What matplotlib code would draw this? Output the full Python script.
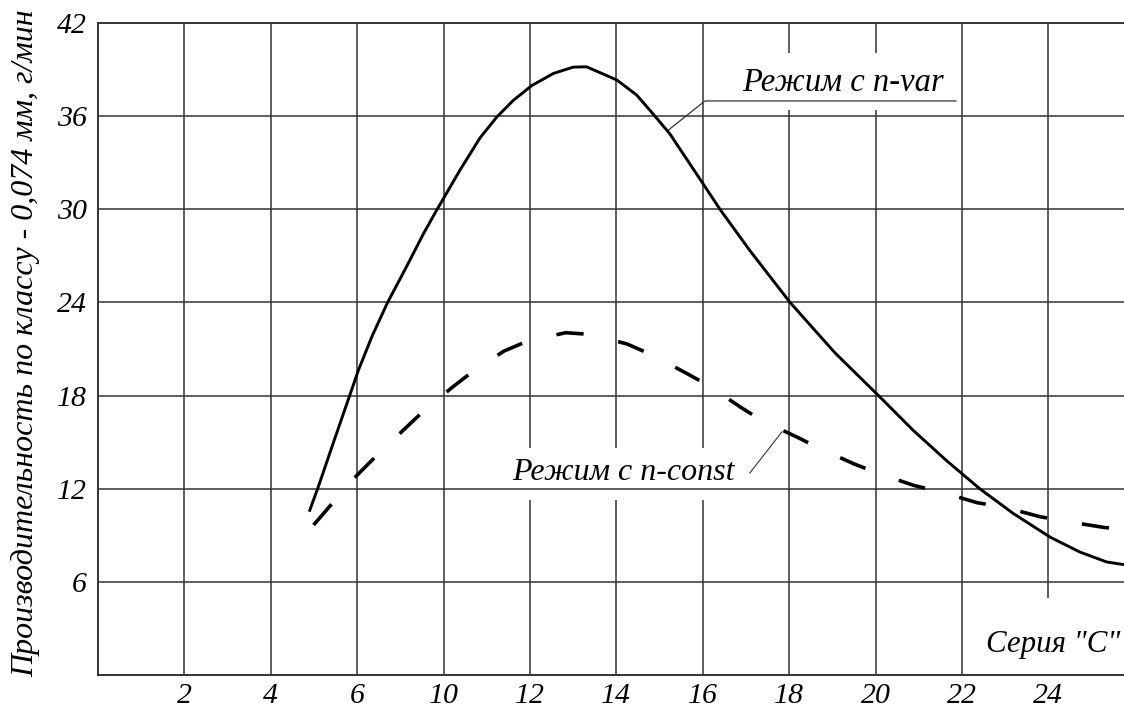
import numpy as np
from matplotlib import pyplot as plt

plt.rcParams["font.family"] = ["Liberation Serif", "DejaVu Serif"]
plt.rcParams["font.style"] = "italic"

# x is measured in grid steps (one grid cell = 2 units), labels as printed on the chart
tick_pos = np.arange(2, 23, 2)
tick_labels = ["2", "4", "6", "10", "12", "14", "16", "18", "20", "22", "24"]
y_ticks = [6, 12, 18, 24, 30, 36, 42]

# "Режим с n-var"
var_x = [4.89, 5.10, 5.45, 5.83, 6.03, 6.34, 6.70, 7.15, 7.53, 7.84, 8.38, 8.84, 9.23,
         9.61, 10.04, 10.54, 11.0, 11.31, 12.01, 12.47, 12.85, 13.24, 14.01, 14.4,
         15.09, 16.02, 17.06, 18.1, 18.87, 19.65, 20.42, 21.19, 22.04, 22.73, 23.35, 23.75]
var_y = [10.52, 12.13, 14.98, 18.04, 19.65, 21.80, 23.98, 26.35, 28.41, 29.95, 32.53,
         34.59, 35.94, 37.01, 37.97, 38.75, 39.16, 39.18, 38.33, 37.36, 36.14, 34.85,
         31.63, 29.99, 27.34, 24.0, 20.75, 17.91, 15.76, 13.79, 11.98, 10.40, 8.88,
         7.92, 7.28, 7.11]

# "Режим с n-const"
const_x = [4.99, 5.41, 6.0, 6.44, 7.07, 7.51, 8.19, 8.65, 9.4, 9.96, 10.83, 11.41, 12.25,
           12.83, 13.6, 14.15, 14.88, 15.39, 16.2, 16.7, 17.5, 18.1, 18.9, 19.5, 20.35,
           21.0, 21.8, 22.4, 23.3, 23.75]
const_y = [9.66, 11.02, 12.88, 14.11, 15.78, 16.94, 18.51, 19.5, 20.87, 21.53, 22.05,
           21.94, 21.32, 20.61, 19.47, 18.62, 17.24, 16.36, 15.3, 14.6, 13.6, 12.95,
           12.2, 11.8, 11.1, 10.8, 10.2, 9.9, 9.5, 9.4]

# breaks in the vertical grid lines where labels sit
grid_gaps = {
    10: [(11.25, 14.65)],
    12: [(11.25, 14.65)],
    14: [(11.25, 14.65)],
    16: [(36.4, 40.1)],
    18: [(36.4, 40.1)],
    22: [(0, 4.96)],
}

fig = plt.figure(figsize=(11.24, 7.13), dpi=100)
ax = fig.add_axes([0.0872, 0.0533, 0.9128, 0.9144])
ax.set_xlim(0, 23.75)
ax.set_ylim(0, 42)

gcol = "#333333"
for y in y_ticks[:-1]:
    ax.axhline(y, color=gcol, lw=1.1, zorder=1)
for x in tick_pos:
    lo = 0
    for g0, g1 in grid_gaps.get(x, []):
        if g0 > lo:
            ax.vlines(x, lo, g0, color=gcol, lw=1.1, zorder=1)
        lo = g1
    ax.vlines(x, lo, 42, color=gcol, lw=1.1, zorder=1)

ax.plot(var_x, var_y, color="black", lw=2.1, zorder=3,
        solid_capstyle="butt", solid_joinstyle="round")
ax.plot(const_x, const_y, color="black", lw=2.6, zorder=3,
        dashes=(7.6, 9.8), dash_capstyle="butt")

# leaders
ax.plot([13.2, 14.05, 19.86], [35.1, 36.98, 36.98], color="#333333", lw=0.9, zorder=2)
ax.plot([15.09, 15.83], [13.02, 15.66], color="#333333", lw=0.8, zorder=2)

fs = 21.5
lfs = 23
ax.text(14.9, 37.6, "Режим с n-var", fontsize=23.5, ha="left", va="baseline")
ax.text(9.58, 12.56, "Режим с n-const", fontsize=lfs, ha="left", va="baseline")
ax.text(20.55, 1.48, "Серия \"С\"", fontsize=22.3, ha="left", va="baseline")

ax.set_xticks(tick_pos)
ax.set_xticklabels(tick_labels)
ax.set_yticks(y_ticks)
ax.tick_params(axis="both", length=0, labelsize=fs)
ax.tick_params(axis="x", pad=6)
ax.tick_params(axis="y", pad=8)

for side in ["left", "bottom", "top"]:
    ax.spines[side].set_color(gcol)
    ax.spines[side].set_linewidth(1.4)
ax.spines["right"].set_visible(False)

fig.text(26 / 1124, 1 - 343 / 713, "Производительность по классу - 0,074 мм, г/мин",
         rotation=90, fontsize=23, ha="center", va="center")

plt.savefig("out.png", dpi=100)
